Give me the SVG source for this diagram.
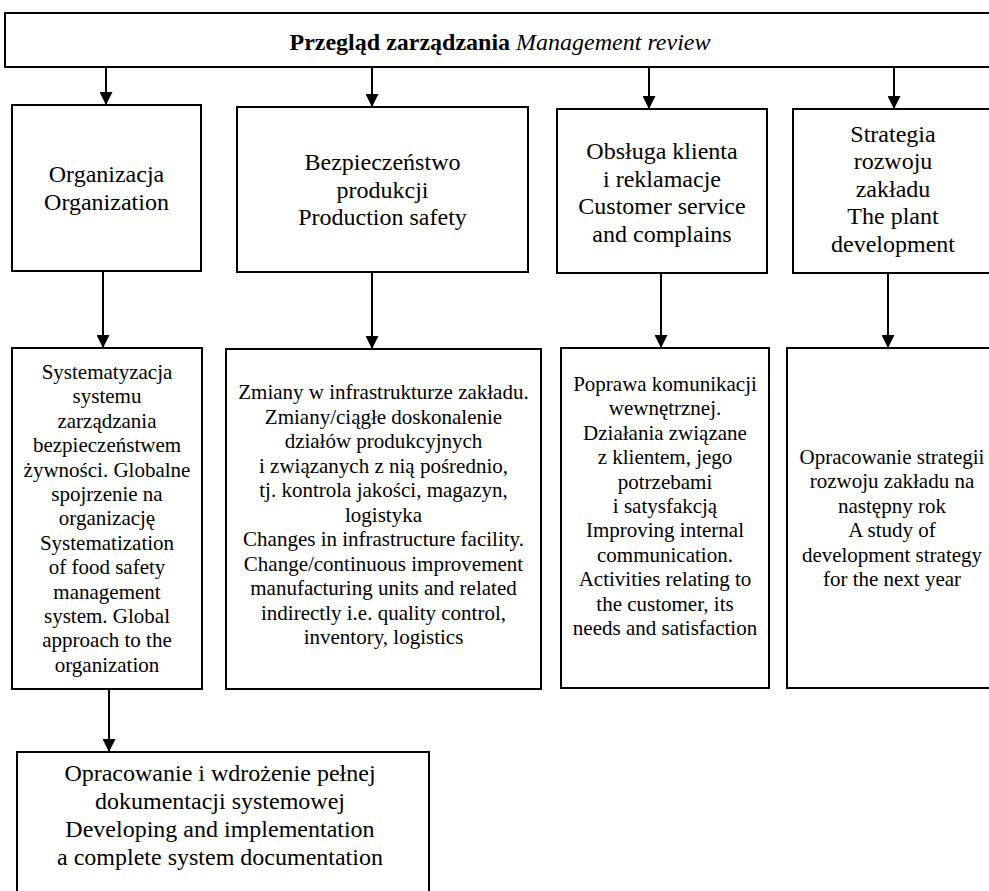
<svg xmlns="http://www.w3.org/2000/svg" width="989" height="891" viewBox="0 0 989 891">
<style>
.box{fill:#fff;stroke:#000;stroke-width:2}
.conn{stroke:#000;stroke-width:2;fill:none}
text{font-family:'Liberation Serif',serif;text-anchor:middle;fill:#000}
.t24{font-size:24px}
.t21{font-size:21px}
</style>
<defs>
<marker id="arr" markerUnits="userSpaceOnUse" viewBox="0 0 13 13" refX="13" refY="6.5" markerWidth="13" markerHeight="13" orient="auto">
<path d="M0,0 L13,6.5 L0,13 z" fill="#000"/>
</marker>
</defs>
<g id="review">
<rect class="box" x="5" y="13" width="1000" height="54"/>
<text class="t24" x="500" y="50" font-family="Liberation Serif, serif"><tspan font-weight="bold">Przegląd zarządzania</tspan> <tspan font-style="italic">Management review</tspan></text>
</g>
<g id="organizacja">
<rect class="box" x="12" y="105" width="189" height="166"/>
<text class="t24" x="106.5"><tspan x="106.5" y="182">Organizacja</tspan><tspan x="106.5" y="210">Organization</tspan></text>
</g>
<g id="bezpieczenstwo">
<rect class="box" x="237" y="107" width="291" height="165"/>
<text class="t24"><tspan x="382.5" y="170">Bezpieczeństwo</tspan><tspan x="382.5" y="197.5">produkcji</tspan><tspan x="382.5" y="225">Production safety</tspan></text>
</g>
<g id="obsluga">
<rect class="box" x="557" y="109" width="210" height="164"/>
<text class="t24"><tspan x="662" y="158.5">Obsługa klienta</tspan><tspan x="662" y="186.5">i reklamacje</tspan><tspan x="662" y="214">Customer service</tspan><tspan x="662" y="241.5">and complains</tspan></text>
</g>
<g id="strategia">
<rect class="box" x="793" y="109" width="210" height="164"/>
<text class="t24"><tspan x="893" y="141.5">Strategia</tspan><tspan x="893" y="169">rozwoju</tspan><tspan x="893" y="196.5">zakładu</tspan><tspan x="893" y="224">The plant</tspan><tspan x="893" y="251.5">development</tspan></text>
</g>
<g id="systematyzacja">
<rect class="box" x="12" y="348" width="190" height="341"/>
<text class="t21"><tspan x="107" y="379">Systematyzacja</tspan><tspan x="107" y="403.4">systemu</tspan><tspan x="107" y="427.8">zarządzania</tspan><tspan x="107" y="452.2">bezpieczeństwem</tspan><tspan x="107" y="476.6">żywności. Globalne</tspan><tspan x="107" y="501">spojrzenie na</tspan><tspan x="107" y="525.4">organizację</tspan><tspan x="107" y="549.8">Systematization</tspan><tspan x="107" y="574.2">of food safety</tspan><tspan x="107" y="598.6">management</tspan><tspan x="107" y="623">system. Global</tspan><tspan x="107" y="647.4">approach to the</tspan><tspan x="107" y="671.8">organization</tspan></text>
</g>
<g id="zmiany">
<rect class="box" x="226" y="349" width="315" height="340"/>
<text class="t21"><tspan x="383.5" y="399">Zmiany w infrastrukturze zakładu.</tspan><tspan x="383.5" y="423.5">Zmiany/ciągłe doskonalenie</tspan><tspan x="383.5" y="448">działów produkcyjnych</tspan><tspan x="383.5" y="472.5">i związanych z nią pośrednio,</tspan><tspan x="383.5" y="497">tj. kontrola jakości, magazyn,</tspan><tspan x="383.5" y="521.5">logistyka</tspan><tspan x="383.5" y="546">Changes in infrastructure facility.</tspan><tspan x="383.5" y="570.5">Change/continuous improvement</tspan><tspan x="383.5" y="595">manufacturing units and related</tspan><tspan x="383.5" y="619.5">indirectly i.e. quality control,</tspan><tspan x="383.5" y="644">inventory, logistics</tspan></text>
</g>
<g id="poprawa">
<rect class="box" x="561" y="348" width="208" height="340"/>
<text class="t21"><tspan x="665" y="391">Poprawa komunikacji</tspan><tspan x="665" y="415.4">wewnętrznej.</tspan><tspan x="665" y="439.8">Działania związane</tspan><tspan x="665" y="464.2">z klientem, jego</tspan><tspan x="665" y="488.6">potrzebami</tspan><tspan x="665" y="513">i satysfakcją</tspan><tspan x="665" y="537.4">Improving internal</tspan><tspan x="665" y="561.8">communication.</tspan><tspan x="665" y="586.2">Activities relating to</tspan><tspan x="665" y="610.6">the customer, its</tspan><tspan x="665" y="635">needs and satisfaction</tspan></text>
</g>
<g id="opracowanie-strategii">
<rect class="box" x="787" y="348" width="210" height="340"/>
<text class="t21"><tspan x="892" y="463.5">Opracowanie strategii</tspan><tspan x="892" y="488">rozwoju zakładu na</tspan><tspan x="892" y="512.5">następny rok</tspan><tspan x="892" y="537">A study of</tspan><tspan x="892" y="561.5">development strategy</tspan><tspan x="892" y="586">for the next year</tspan></text>
</g>
<g id="dokumentacja">
<rect class="box" x="17" y="752" width="412" height="150"/>
<text class="t24"><tspan x="220" y="781">Opracowanie i wdrożenie pełnej</tspan><tspan x="220" y="809">dokumentacji systemowej</tspan><tspan x="220" y="837">Developing and implementation</tspan><tspan x="220" y="865">a complete system documentation</tspan></text>
</g>
<g id="connectors">
<line class="conn" x1="106" y1="67" x2="106" y2="105" marker-end="url(#arr)"/>
<line class="conn" x1="372" y1="67" x2="372" y2="107" marker-end="url(#arr)"/>
<line class="conn" x1="649" y1="67" x2="649" y2="109" marker-end="url(#arr)"/>
<line class="conn" x1="894" y1="67" x2="894" y2="109" marker-end="url(#arr)"/>
<line class="conn" x1="103" y1="271" x2="103" y2="348" marker-end="url(#arr)"/>
<line class="conn" x1="372" y1="272" x2="372" y2="349" marker-end="url(#arr)"/>
<line class="conn" x1="661" y1="273" x2="661" y2="348" marker-end="url(#arr)"/>
<line class="conn" x1="888" y1="273" x2="888" y2="348" marker-end="url(#arr)"/>
<line class="conn" x1="109" y1="689" x2="109" y2="752" marker-end="url(#arr)"/>
</g>
</svg>
